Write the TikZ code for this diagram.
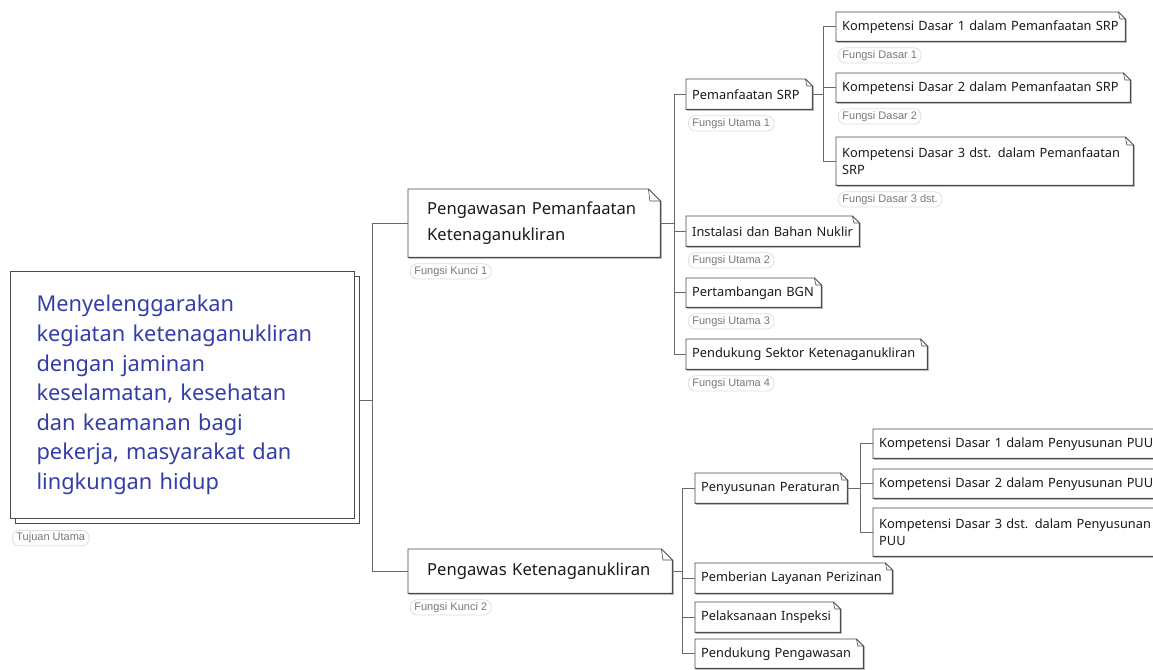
\documentclass[tikz,border=0pt]{standalone}
\usepackage{fontspec}
\setmainfont{Noto Sans}
\newfontfamily\labfont{Liberation Sans}
\definecolor{rootblue}{RGB}{52,62,168}
\definecolor{boxline}{RGB}{75,75,75}
\definecolor{shadowc}{RGB}{185,185,185}
\definecolor{connc}{RGB}{105,105,105}
\definecolor{labtext}{RGB}{120,120,120}
\definecolor{labline}{RGB}{222,222,222}
\definecolor{boxtext}{RGB}{25,25,25}
\begin{document}
\begin{tikzpicture}[x=1pt,y=-1pt,
  box/.style={anchor=north west, inner xsep=6pt, inner ysep=0pt, align=left,
    font=\fontsize{12.8}{17}\selectfont, text=boxtext},
  bigbox/.style={anchor=north west, inner xsep=19pt, inner ysep=0pt, align=left,
    font=\fontsize{16.6}{26}\selectfont, text=boxtext},
  lab/.style={anchor=north west, draw=labline, line width=0.8pt, rounded corners=7pt,
    text=labtext, font=\labfont\fontsize{11}{12}\selectfont, inner xsep=4pt, inner ysep=2.5pt},
  outl/.style={draw=boxline, line width=0.9pt, line join=miter},
  shad/.style={draw=shadowc, line width=1.2pt},
  conn/.style={draw=connc, line width=0.9pt}
]
\useasboundingbox (0,0) rectangle (1153,669);

% root
\node[anchor=north west, draw=boxline, fill=white, line width=0.9pt,
  minimum width=344pt, minimum height=247pt, inner sep=0pt] (rootb) at (15,276) {};
\node[anchor=north west, draw=boxline, fill=white, line width=1.1pt,
  text width=292pt, minimum height=247pt, inner xsep=26pt, inner ysep=0pt,
  align=left, text=rootblue, font=\fontsize{21.8}{29.6}\selectfont] (root) at (10,271)
  {Menyelenggarakan\\kegiatan ketenaganukliran\\dengan jaminan\\keselamatan, kesehatan\\dan keamanan bagi\\pekerja, masyarakat dan\\lingkungan hidup};
\node[lab] (lroot) at ([shift={(2pt,-11pt)}]root.south west) {Tujuan Utama};

% key functions
\node[bigbox, text width=214pt, minimum height=68pt] (k1) at (408,189)
  {Pengawasan Pemanfaatan\\Ketenaganukliran};
\node[lab] (lk1) at ([shift={(2pt,-6pt)}]k1.south west) {Fungsi Kunci 1};
\node[bigbox, text width=226pt, minimum height=44pt] (k2) at (408,549)
  {Pengawas Ketenaganukliran};
\node[lab] (lk2) at ([shift={(2pt,-6pt)}]k2.south west) {Fungsi Kunci 2};

% upper main functions
\node[box, text width=114pt, minimum height=30pt] (u1) at (686,79) {Pemanfaatan SRP};
\node[lab] (lu1) at ([shift={(2pt,-6pt)}]u1.south west) {Fungsi Utama 1};
\node[box, text width=161pt, minimum height=30pt] (u2) at (686,216) {Instalasi dan Bahan Nuklir};
\node[lab] (lu2) at ([shift={(2pt,-6pt)}]u2.south west) {Fungsi Utama 2};
\node[box, text width=123pt, minimum height=29pt] (u3) at (686,278) {Pertambangan BGN};
\node[lab] (lu3) at ([shift={(2pt,-6pt)}]u3.south west) {Fungsi Utama 3};
\node[box, text width=229pt, minimum height=30pt] (u4) at (686,339) {Pendukung Sektor Ketenaganukliran};
\node[lab] (lu4) at ([shift={(2pt,-6pt)}]u4.south west) {Fungsi Utama 4};

% basic functions (upper)
\node[box, text width=277pt, minimum height=29pt] (d1) at (836,12) {Kompetensi Dasar 1 dalam Pemanfaatan SRP};
\node[lab] (ld1) at ([shift={(2pt,-6pt)}]d1.south west) {Fungsi Dasar 1};
\node[box, text width=282pt, minimum height=29pt] (d2) at (836,73) {Kompetensi Dasar 2 dalam Pemanfaatan SRP};
\node[lab] (ld2) at ([shift={(2pt,-6pt)}]d2.south west) {Fungsi Dasar 2};
\node[box, text width=285pt, minimum height=48pt] (d3) at (836,137) {Kompetensi Dasar 3 dst. dalam Pemanfaatan\\SRP};
\node[lab] (ld3) at ([shift={(2pt,-6pt)}]d3.south west) {Fungsi Dasar 3 dst.};

% lower main functions
\node[box, text width=140pt, minimum height=30pt] (p1) at (695,473) {Penyusunan Peraturan};
\node[box, text width=185pt, minimum height=30pt] (p2) at (695,563) {Pemberian Layanan Perizinan};
\node[box, text width=133pt, minimum height=30pt] (p3) at (695,602) {Pelaksanaan Inspeksi};
\node[box, text width=156pt, minimum height=29pt] (p4) at (695,639) {Pendukung Pengawasan};

% lower basic
\node[box, text width=276pt, minimum height=29pt] (q1) at (873,429) {Kompetensi Dasar 1 dalam Penyusunan PUU};
\node[box, text width=276pt, minimum height=29pt] (q2) at (873,469) {Kompetensi Dasar 2 dalam Penyusunan PUU};
\node[box, text width=276pt, minimum height=48pt] (q3) at (873,508) {Kompetensi Dasar 3 dst. dalam Penyusunan\\PUU};

% outlines with folded corner
\foreach \n/\f in {k1/12,k2/11,u1/7,u2/7,u3/7,u4/7,d1/7,d2/7,d3/8,p1/7,p2/7,p3/7,p4/7,q1/7,q2/7,q3/7}{
  \draw[shad] ([shift={(1.3pt,-\f pt)}]\n.north east) -- ([shift={(1.3pt,-1.3pt)}]\n.south east) -- ([shift={(1.3pt,-1.3pt)}]\n.south west);
  \draw[outl] (\n.north west) -- ([xshift=-\f pt]\n.north east) -- ([yshift=-\f pt]\n.north east)
     -- (\n.south east) -- (\n.south west) -- cycle;
  \draw[outl, line width=0.6pt] ([xshift=-\f pt]\n.north east) -- ([shift={(-\f pt+1.5pt,-\f pt)}]\n.north east) -- ([yshift=-\f pt]\n.north east);
}

% connectors
\draw[conn] (rootb.east) -- ++(13,0) coordinate (s1);
\draw[conn] (k1.west) -| (s1) |- (k2.west);

\draw[conn] (k1.east) -- ++(14,0) coordinate (s2);
\draw[conn] (u1.west) -| (s2) |- (u4.west);
\draw[conn] (u2.west) -- (u2.west -| s2);
\draw[conn] (u3.west) -- (u3.west -| s2);

\draw[conn] (u1.east) -- ++(11,0) coordinate (s3);
\draw[conn] (d1.west) -| (s3) |- (d3.west);
\draw[conn] (d2.west) -- (d2.west -| s3);

\draw[conn] (k2.east) -- ++(10,0) coordinate (s4);
\draw[conn] (p1.west) -| (s4) |- (p4.west);
\draw[conn] (p2.west) -- (p2.west -| s4);
\draw[conn] (p3.west) -- (p3.west -| s4);

\draw[conn] (p1.east) -- ++(13,0) coordinate (s5);
\draw[conn] (q1.west) -| (s5) |- (q3.west);
\draw[conn] (q2.west) -- (q2.west -| s5);
\end{tikzpicture}
\end{document}
